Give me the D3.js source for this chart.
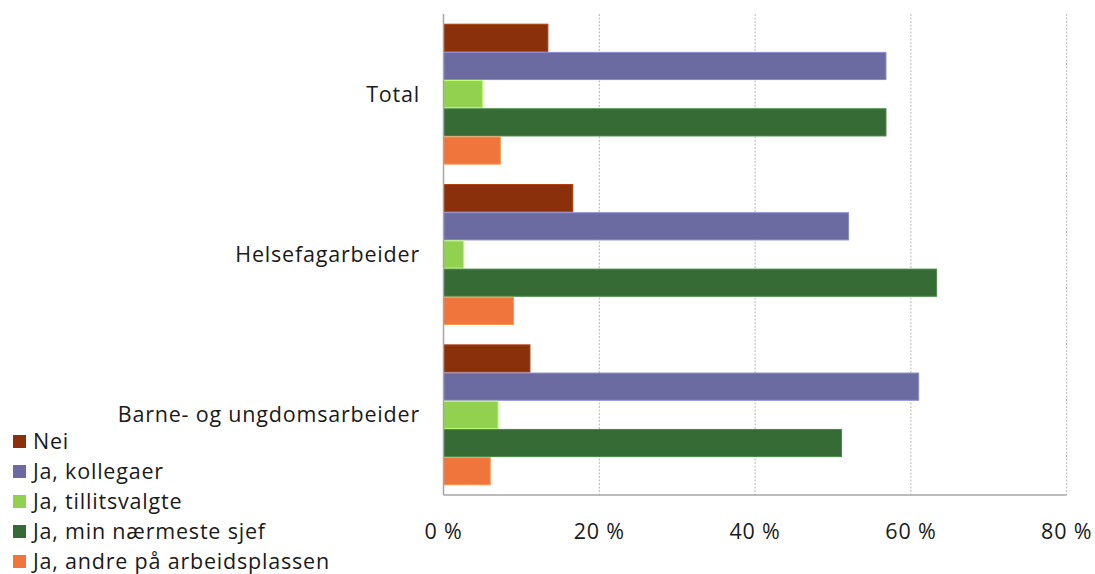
<!DOCTYPE html>
<html>
<head>
<meta charset="utf-8">
<script src="https://cdn.jsdelivr.net/npm/d3@7"></script>
<style>
  html, body { margin: 0; padding: 0; background: #fff; }
  svg text { font-family: "Open Sans", Lato, sans-serif; fill: #1a1a1a; letter-spacing: 0.8px; }
</style>
</head>
<body>
<svg id="chart" width="1095" height="574"></svg>
<script>
// Occupational groups (top to bottom)
const categories = ["Total", "Helsefagarbeider", "Barne- og ungdomsarbeider"];

// Answer alternatives, in bar order within each group
const seriesNames = ["Nei", "Ja, kollegaer", "Ja, tillitsvalgte", "Ja, min nærmeste sjef", "Ja, andre på arbeidsplassen"];
const seriesColors = ["#8a310b", "#6b6ba2", "#92d050", "#376b36", "#f0753c"];

// Percent per series, one value per category
const nei         = [13.4, 16.6, 11.1];
const kollegaer   = [56.8, 52.0, 61.0];
const tillitsvalg = [5.0, 2.6, 7.0];
const sjef        = [56.8, 63.3, 51.1];
const andre       = [7.3, 9.0, 6.0];
const seriesValues = [nei, kollegaer, tillitsvalg, sjef, andre];

const tickValues = [0, 20, 40, 60, 80];
const tickLabels = ["0 %", "20 %", "40 %", "60 %", "80 %"];

const svg = d3.select("#chart");

const plot = { left: 443.5, right: 1066.7, top: 14, bottom: 495 };

const x = d3.scaleLinear().domain([0, 80]).range([plot.left, plot.right]);
const y = d3.scaleBand().domain(categories).range([plot.top, plot.bottom])
  .paddingInner(0.121).paddingOuter(0.0605);
const ySub = d3.scaleBand().domain(seriesNames).range([0, y.bandwidth()]).padding(0);

// Dotted vertical gridlines
svg.append("g").selectAll("line")
  .data(tickValues.filter(v => v > 0))
  .join("line")
  .attr("x1", d => x(d)).attr("x2", d => x(d))
  .attr("y1", plot.top).attr("y2", plot.bottom)
  .attr("stroke", "#b5b5b5").attr("stroke-width", 1)
  .attr("stroke-dasharray", "2,1.5");

// Bars
const rows = [];
categories.forEach((c, ci) => {
  seriesNames.forEach((s, si) => {
    rows.push({ cat: c, series: s, color: seriesColors[si], value: seriesValues[si][ci] });
  });
});

svg.append("g").selectAll("rect")
  .data(rows)
  .join("rect")
  .attr("x", x(0))
  .attr("y", d => y(d.cat) + ySub(d.series) + 0.5)
  .attr("width", d => x(d.value) - x(0))
  .attr("height", ySub.bandwidth() - 1)
  .attr("fill", d => d.color)
  .attr("stroke", d => d3.color(d.color).brighter(0.7))
  .attr("stroke-width", 1);

// Axis lines
svg.append("line")
  .attr("x1", x(0)).attr("x2", x(0))
  .attr("y1", plot.top).attr("y2", plot.bottom)
  .attr("stroke", "#a6a6a6").attr("stroke-width", 1.5);
svg.append("line")
  .attr("x1", x(0)).attr("x2", x(80))
  .attr("y1", plot.bottom).attr("y2", plot.bottom)
  .attr("stroke", "#a6a6a6").attr("stroke-width", 1.5);

// Category labels
svg.append("g").selectAll("text")
  .data(categories)
  .join("text")
  .attr("x", 420)
  .attr("y", d => y(d) + y.bandwidth() / 2 + 7.5)
  .attr("text-anchor", "end")
  .attr("font-size", 21.5)
  .text(d => d);

// Tick labels
svg.append("g").selectAll("text")
  .data(tickValues)
  .join("text")
  .attr("x", d => x(d))
  .attr("y", 539)
  .attr("text-anchor", "middle")
  .attr("font-size", 21.5)
  .text((d, i) => tickLabels[i]);

// Legend
const legend = svg.append("g").selectAll("g")
  .data(seriesNames)
  .join("g")
  .attr("transform", (d, i) => `translate(0, ${449 + i * 30})`);
legend.append("rect")
  .attr("x", 13).attr("y", -14)
  .attr("width", 13).attr("height", 13)
  .attr("fill", (d, i) => seriesColors[i]);
legend.append("text")
  .attr("x", 33).attr("y", 0)
  .attr("font-size", 21.5)
  .text(d => d);
</script>
</body>
</html>
